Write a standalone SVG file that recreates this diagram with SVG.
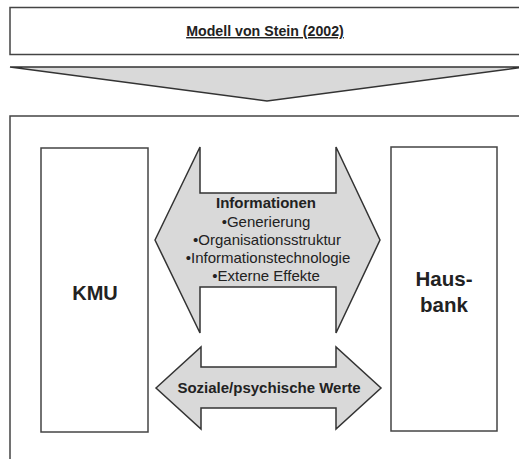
<svg xmlns="http://www.w3.org/2000/svg" width="519" height="459" viewBox="0 0 519 459">
<style>
.box{fill:#fff;stroke:#444;stroke-width:1.5}
.arr{fill:#d9d9d9;stroke:#333;stroke-width:1.5;stroke-linejoin:miter}
text{font-family:"Liberation Sans",Arial,sans-serif;fill:#222;text-anchor:middle}
.b{font-weight:bold}
.s{font-size:15px}
</style>
<rect width="519" height="459" fill="#fff"/>
<g id="title">
<rect class="box" x="10" y="7.5" width="515" height="47"/>
<text class="b" x="265" y="36" font-size="14.2" text-decoration="underline">Modell von Stein (2002)</text>
</g>
<g id="downArrow">
<polygon class="arr" points="10,67 525,67 267,101"/>
</g>
<g id="frame">
<rect class="box" x="10" y="116" width="515" height="350"/>
</g>
<g id="kmu">
<rect class="box" x="41" y="148" width="107" height="284"/>
<text class="b" x="95" y="300" font-size="20">KMU</text>
</g>
<g id="hausbank">
<rect class="box" x="391" y="147" width="106" height="284"/>
<text class="b" x="444" y="286" font-size="20.5">Haus-</text>
<text class="b" x="444" y="312" font-size="20.5">bank</text>
</g>
<g id="connectors">
<g id="info">
<polygon class="arr" points="155,240 200,147 200,193 336,193 336,147 380,240 336,333 336,287 200,287 200,333"/>
<text class="b s" x="266" y="208">Informationen</text>
<text class="s" x="266" y="227">•Generierung</text>
<text class="s" x="267" y="245">•Organisationsstruktur</text>
<text class="s" x="268" y="263">•Informationstechnologie</text>
<text class="s" x="266" y="281">•Externe Effekte</text>
</g>
<g id="soziale">
<polygon class="arr" points="156,388 201,347 201,367 336,367 336,347 381,388 336,429 336,408 201,408 201,429"/>
<text class="b s" x="269" y="393">Soziale/psychische Werte</text>
</g>
</g>
</svg>
